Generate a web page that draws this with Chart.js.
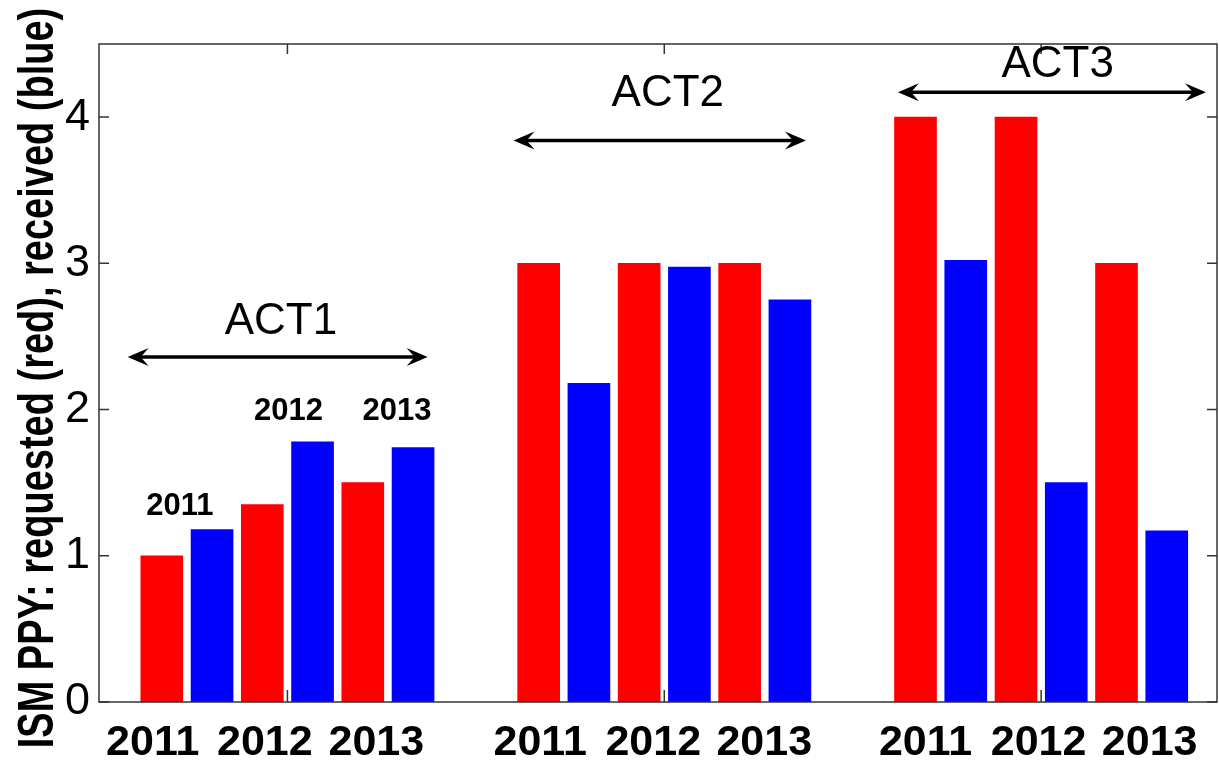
<!DOCTYPE html>
<html>
<head>
<meta charset="utf-8">
<script src="https://cdn.jsdelivr.net/npm/chart.js@4/dist/chart.umd.min.js"></script>
<style>
  body { margin: 0; background: #fff; }
  #wrap { width: 1219px; height: 760px; }
</style>
</head>
<body>
<div id="wrap"><canvas id="ppy" width="1219" height="760"></canvas></div>
<script>
//Datos
const years = ["2011", "2012", "2013"];
const acts = ["ACT1", "ACT2", "ACT3"];

// posicion de cada barra en el eje x (3 grupos ACT)
const redX = [1, 3, 5, 8.5, 10.5, 12.5, 16, 18, 20];
const blueX = [2, 4, 6, 9.5, 11.5, 13.5, 17, 19, 21];

// PPY pedido (rojo) y recibido (azul)
const requested = [1.0, 1.35, 1.5, 3.0, 3.0, 3.0, 4.0, 4.0, 3.0];
const received = [1.18, 1.78, 1.74, 2.18, 2.975, 2.75, 3.02, 1.5, 1.17];

// etiquetas del eje x
const yearTickX = [0.82, 3.05, 5.27, 8.53, 10.78, 12.99, 16.2, 18.45, 20.66];
const tickMarkX = [3.5, 11, 18.5];
const yTicks = [0, 1, 2, 3, 4];

// flechas ACT
const actStart = [0.32, 8.0, 15.65];
const actEnd = [6.29, 13.82, 21.78];
const actArrowY = [2.36, 3.84, 4.17];
const actLabelX = [3.37, 11.07, 18.83];
const actLabelY = [2.6, 4.16, 4.36];

// años pequeños sobre ACT1
const innerYearX = [1.36, 3.52, 5.68];
const innerYearY = [1.34, 1.99, 1.99];

const yTitle = "ISM PPY: requested (red), received (blue)";
const FONT = "'Liberation Sans', Arial, sans-serif";

function arrowHead(ctx, x, y, dir) {
  ctx.beginPath();
  ctx.moveTo(x, y);
  ctx.lineTo(x - dir * 21, y - 9);
  ctx.lineTo(x - dir * 13, y);
  ctx.lineTo(x - dir * 21, y + 9);
  ctx.closePath();
  ctx.fill();
}

//Plugin para el marco, las flechas y los textos
const extras = {
  id: "extras",
  afterDatasetsDraw(chart) {
    const ctx = chart.ctx;
    const area = chart.chartArea;
    const xs = chart.scales.x;
    const ys = chart.scales.y;
    ctx.save();

    // marco
    ctx.strokeStyle = "#333";
    ctx.lineWidth = 1.5;
    ctx.strokeRect(area.left, area.top, area.right - area.left, area.bottom - area.top);

    // ticks hacia dentro
    ctx.beginPath();
    yTicks.forEach(v => {
      const py = ys.getPixelForValue(v);
      ctx.moveTo(area.left, py); ctx.lineTo(area.left + 10, py);
      ctx.moveTo(area.right, py); ctx.lineTo(area.right - 10, py);
    });
    tickMarkX.forEach(v => {
      const px = xs.getPixelForValue(v);
      ctx.moveTo(px, area.bottom); ctx.lineTo(px, area.bottom - 12);
      ctx.moveTo(px, area.top); ctx.lineTo(px, area.top + 10);
    });
    ctx.stroke();

    // flechas
    ctx.strokeStyle = "#000";
    ctx.fillStyle = "#000";
    ctx.lineWidth = 3.5;
    acts.forEach((name, i) => {
      const x1 = xs.getPixelForValue(actStart[i]);
      const x2 = xs.getPixelForValue(actEnd[i]);
      const py = ys.getPixelForValue(actArrowY[i]);
      ctx.beginPath();
      ctx.moveTo(x1 + 12, py);
      ctx.lineTo(x2 - 12, py);
      ctx.stroke();
      arrowHead(ctx, x1, py, -1);
      arrowHead(ctx, x2, py, 1);

      ctx.font = "44px " + FONT;
      ctx.textAlign = "center";
      ctx.textBaseline = "middle";
      ctx.fillText(name, xs.getPixelForValue(actLabelX[i]), ys.getPixelForValue(actLabelY[i]));
    });

    // años sobre las barras de ACT1
    ctx.font = "bold 31px " + FONT;
    years.forEach((yr, i) => {
      ctx.fillText(yr, xs.getPixelForValue(innerYearX[i]), ys.getPixelForValue(innerYearY[i]));
    });

    // titulo del eje y
    ctx.translate(53, 378);
    ctx.rotate(-Math.PI / 2);
    ctx.scale(1, 1.3);
    ctx.font = "bold 38px " + FONT;
    ctx.textBaseline = "alphabetic";
    ctx.fillText(yTitle, 0, 0);
    ctx.restore();
  }
};

const ppy = document.getElementById("ppy");

new Chart(ppy, {
  type: "bar",
  data: {
    datasets: [
      {
        label: "requested",
        data: redX.map((x, i) => ({ x: x, y: requested[i] })),
        backgroundColor: "#ff0000",
      },
      {
        label: "received",
        data: blueX.map((x, i) => ({ x: x, y: received[i] })),
        backgroundColor: "#0000ff",
      },
    ],
  },
  options: {
    responsive: false,
    animation: false,
    layout: { padding: { top: 44, right: 2, left: 0, bottom: 0 } },
    datasets: { bar: { barThickness: 42, grouped: false } },
    plugins: { legend: { display: false }, tooltip: { enabled: false } },
    scales: {
      x: {
        type: "linear",
        min: -0.25,
        max: 22,
        offset: false,
        grid: { display: false, drawTicks: false },
        border: { display: false },
        afterBuildTicks: s => { s.ticks = yearTickX.map(v => ({ value: v })); },
        afterFit: s => { s.height = 58; },
        ticks: {
          autoSkip: false,
          maxRotation: 0,
          padding: 15,
          color: "#000",
          font: { family: FONT, size: 43, weight: "bold" },
          callback: (v, i) => years[i % 3],
        },
      },
      y: {
        min: 0,
        max: 4.5,
        grid: { display: false, drawTicks: false },
        border: { display: false },
        afterBuildTicks: s => { s.ticks = yTicks.map(v => ({ value: v })); },
        afterFit: s => { s.width = 99; },
        ticks: {
          padding: 9,
          color: "#000",
          font: { family: FONT, size: 45 },
        },
      },
    },
  },
  plugins: [extras],
});
</script>
</body>
</html>
